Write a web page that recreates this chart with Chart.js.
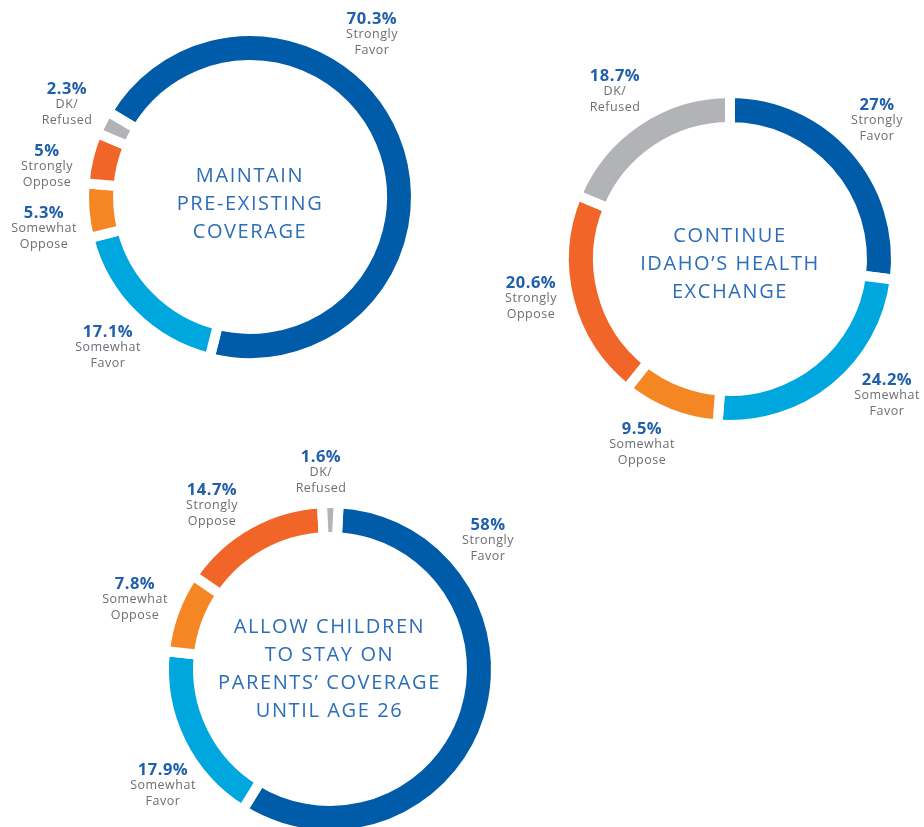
<!DOCTYPE html>
<html>
<head>
<meta charset="utf-8">
<script src="https://cdn.jsdelivr.net/npm/chart.js@4/dist/chart.umd.min.js"></script>
<style>
  html, body { margin: 0; padding: 0; background: #fff; }
  #page { position: relative; width: 924px; height: 827px; overflow: hidden; font-family: "Open Sans", sans-serif; }
  canvas { position: absolute; }
  .lbl { position: absolute; transform: translateX(-50%); text-align: center; white-space: nowrap; }
  .pct { color: #1f5fab; font-weight: 700; font-size: 16.5px; line-height: 16px; height: 16px; letter-spacing: 0.5px; }
  .cat { color: #6d6e71; font-size: 12.5px; line-height: 15.5px; letter-spacing: 0.5px; }
  .title { position: absolute; transform: translateX(-50%); text-align: center; white-space: nowrap;
           color: #2b6db8; font-size: 20px; line-height: 28px; letter-spacing: 1.6px; }
</style>
</head>
<body>
<div id="page"></div>
<script>
// --- Data ---
const categories = ["Strongly Favor", "Somewhat Favor", "Somewhat Oppose", "Strongly Oppose", "DK/ Refused"];
const colors = ["#005ca9", "#00a7df", "#f48723", "#f26529", "#b1b3b6"];

const preExisting = [70.3, 17.1, 5.3, 5, 2.3];
const healthExchange = [27, 24.2, 9.5, 20.6, 18.7];
const childrenTo26 = [58, 17.9, 7.8, 14.7, 1.6];

const titles = [
  ["MAINTAIN", "PRE-EXISTING", "COVERAGE"],
  ["CONTINUE", "IDAHO’S HEALTH", "EXCHANGE"],
  ["ALLOW CHILDREN", "TO STAY ON", "PARENTS’ COVERAGE", "UNTIL AGE 26"],
];

// --- Layout (positions only) ---
const charts = [
  { values: preExisting, cx: 250, cy: 196.5, rotation: -59, titleTop: 161,
    labels: [[372, 10], [108, 323], [44, 204], [47, 142], [67, 80]] },
  { values: healthExchange, cx: 730, cy: 259, rotation: 0, titleTop: 221,
    labels: [[877, 96], [887, 371], [642, 420], [531, 274], [615, 67]] },
  { values: childrenTo26, cx: 329.5, cy: 669, rotation: 3, titleTop: 612,
    labels: [[488, 516], [163, 761], [135, 575], [212, 481], [321, 448]] },
];

const SIZE = 360;
const page = document.getElementById("page");

const fmt = (v) => v + "%";

charts.forEach((c, i) => {
  const cv = document.createElement("canvas");
  cv.width = SIZE;
  cv.height = SIZE;
  cv.style.left = c.cx - SIZE / 2 + "px";
  cv.style.top = c.cy - SIZE / 2 + "px";
  page.appendChild(cv);

  new Chart(cv.getContext("2d"), {
    type: "doughnut",
    data: {
      labels: categories,
      datasets: [{
        data: c.values,
        backgroundColor: colors,
        borderColor: "#ffffff",
        borderWidth: 10,
        hoverOffset: 0,
      }],
    },
    options: {
      responsive: false,
      animation: false,
      events: [],
      radius: 166,
      cutout: "79.5%",
      rotation: c.rotation,
      plugins: { legend: { display: false }, tooltip: { enabled: false } },
    },
  });

  // value labels
  c.values.forEach((v, j) => {
    const d = document.createElement("div");
    d.className = "lbl";
    d.style.left = c.labels[j][0] + "px";
    d.style.top = c.labels[j][1] + "px";
    const words = categories[j].split(" ");
    d.innerHTML = `<div class="pct">${fmt(v)}</div><div class="cat">${words[0]}<br>${words[1]}</div>`;
    page.appendChild(d);
  });

  // center title
  const t = document.createElement("div");
  t.className = "title";
  t.style.left = c.cx + "px";
  t.style.top = c.titleTop + "px";
  t.innerHTML = titles[i].join("<br>");
  page.appendChild(t);
});
</script>
</body>
</html>
